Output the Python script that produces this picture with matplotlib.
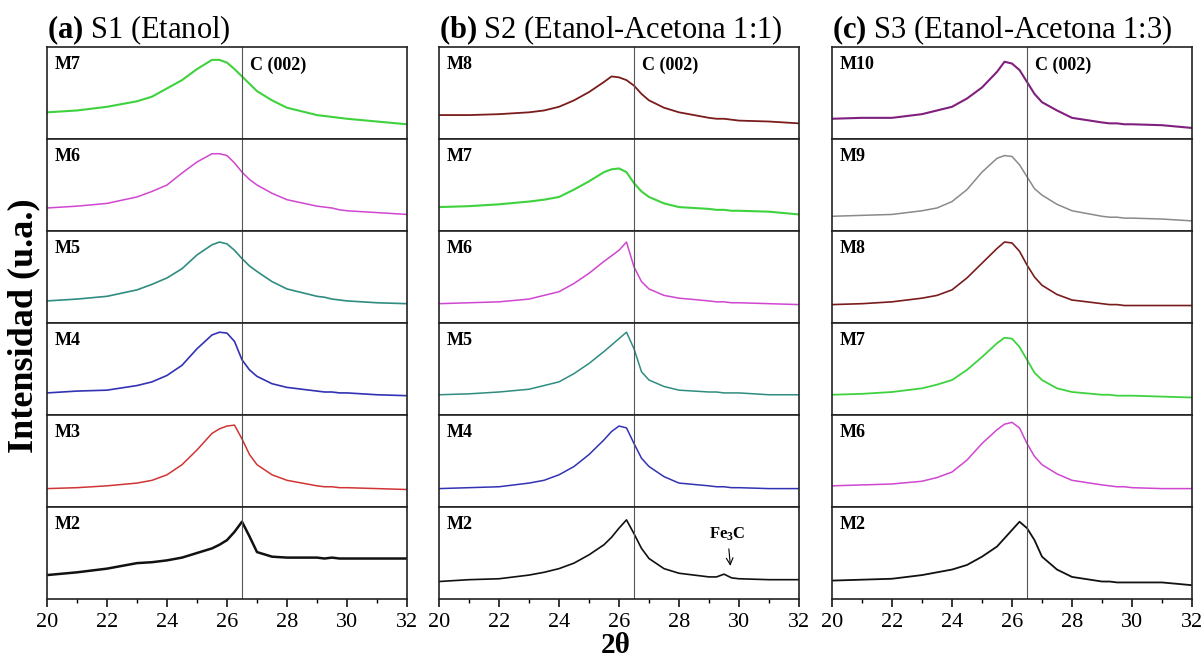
import numpy as np
import matplotlib
matplotlib.use("Agg")
import matplotlib.pyplot as plt
from matplotlib.ticker import MultipleLocator

plt.rcParams['font.family'] = ['Liberation Serif', 'DejaVu Serif']
plt.rcParams['mathtext.fontset'] = 'custom'
plt.rcParams['mathtext.rm'] = 'Liberation Serif'
plt.rcParams['mathtext.bf'] = 'Liberation Serif:bold'

two_theta = [20, 21, 22, 23, 23.5, 24, 24.5, 25, 25.5, 25.75, 26, 26.25,
             26.5, 26.75, 27, 27.5, 28, 29, 29.25, 29.5, 29.75, 30, 31, 32]

# normalised intensity, each panel 0..1
s1_m7 = [0.29, 0.31, 0.35, 0.41, 0.46, 0.55, 0.64, 0.76, 0.86, 0.86, 0.83, 0.76,
         0.68, 0.60, 0.52, 0.42, 0.34, 0.26, 0.25, 0.24, 0.23, 0.22, 0.19, 0.16]
s1_m6 = [0.25, 0.27, 0.30, 0.37, 0.43, 0.50, 0.63, 0.75, 0.84, 0.84, 0.82, 0.74,
         0.64, 0.56, 0.50, 0.41, 0.34, 0.27, 0.26, 0.25, 0.23, 0.22, 0.20, 0.18]
s1_m5 = [0.24, 0.26, 0.29, 0.36, 0.42, 0.49, 0.59, 0.74, 0.85, 0.88, 0.86, 0.79,
         0.70, 0.62, 0.56, 0.45, 0.37, 0.29, 0.28, 0.26, 0.25, 0.24, 0.22, 0.21]
s1_m4 = [0.24, 0.26, 0.27, 0.32, 0.36, 0.43, 0.54, 0.72, 0.87, 0.90, 0.89, 0.80,
         0.60, 0.49, 0.42, 0.34, 0.30, 0.26, 0.25, 0.25, 0.24, 0.24, 0.22, 0.21]
s1_m3 = [0.20, 0.21, 0.23, 0.26, 0.29, 0.35, 0.46, 0.62, 0.80, 0.85, 0.88, 0.89,
         0.74, 0.57, 0.46, 0.35, 0.29, 0.23, 0.22, 0.22, 0.21, 0.21, 0.20, 0.19]
s1_m2 = [0.26, 0.29, 0.33, 0.39, 0.40, 0.42, 0.45, 0.50, 0.55, 0.59, 0.64, 0.73,
         0.84, 0.68, 0.51, 0.46, 0.45, 0.45, 0.44, 0.45, 0.44, 0.44, 0.44, 0.44]

s2_m8 = [0.26, 0.26, 0.27, 0.29, 0.31, 0.35, 0.42, 0.51, 0.62, 0.68, 0.67, 0.64,
         0.58, 0.49, 0.42, 0.34, 0.29, 0.23, 0.22, 0.22, 0.21, 0.20, 0.19, 0.17]
s2_m7 = [0.26, 0.27, 0.29, 0.32, 0.34, 0.37, 0.45, 0.54, 0.64, 0.67, 0.68, 0.64,
         0.52, 0.43, 0.37, 0.30, 0.26, 0.24, 0.23, 0.23, 0.22, 0.22, 0.21, 0.18]
s2_m6 = [0.21, 0.22, 0.23, 0.26, 0.30, 0.34, 0.43, 0.54, 0.67, 0.73, 0.79, 0.88,
         0.61, 0.45, 0.37, 0.30, 0.27, 0.24, 0.23, 0.23, 0.22, 0.22, 0.21, 0.20]
s2_m5 = [0.22, 0.23, 0.25, 0.28, 0.32, 0.36, 0.45, 0.56, 0.69, 0.76, 0.83, 0.90,
         0.72, 0.47, 0.38, 0.31, 0.27, 0.25, 0.25, 0.24, 0.24, 0.24, 0.22, 0.22]
s2_m4 = [0.20, 0.21, 0.22, 0.26, 0.29, 0.35, 0.44, 0.57, 0.73, 0.82, 0.88, 0.86,
         0.69, 0.53, 0.44, 0.33, 0.26, 0.23, 0.22, 0.22, 0.21, 0.21, 0.20, 0.20]
s2_m2 = [0.19, 0.21, 0.22, 0.26, 0.29, 0.33, 0.39, 0.48, 0.59, 0.67, 0.77, 0.86,
         0.71, 0.55, 0.44, 0.33, 0.28, 0.24, 0.24, 0.27, 0.23, 0.22, 0.21, 0.21]

s3_m10 = [0.22, 0.23, 0.23, 0.27, 0.31, 0.35, 0.44, 0.56, 0.73, 0.84, 0.82, 0.75,
          0.62, 0.49, 0.40, 0.31, 0.23, 0.18, 0.17, 0.17, 0.16, 0.16, 0.15, 0.12]
s3_m9 = [0.16, 0.17, 0.18, 0.22, 0.25, 0.32, 0.45, 0.64, 0.79, 0.82, 0.81, 0.72,
         0.59, 0.46, 0.39, 0.29, 0.22, 0.16, 0.15, 0.15, 0.14, 0.14, 0.13, 0.11]
s3_m8 = [0.20, 0.21, 0.23, 0.27, 0.30, 0.36, 0.49, 0.65, 0.81, 0.88, 0.87, 0.78,
         0.63, 0.50, 0.41, 0.31, 0.25, 0.21, 0.20, 0.20, 0.19, 0.19, 0.19, 0.19]
s3_m7 = [0.22, 0.23, 0.25, 0.29, 0.33, 0.38, 0.49, 0.63, 0.78, 0.84, 0.83, 0.74,
         0.60, 0.46, 0.38, 0.29, 0.25, 0.22, 0.22, 0.21, 0.21, 0.21, 0.20, 0.19]
s3_m6 = [0.23, 0.24, 0.25, 0.28, 0.32, 0.38, 0.51, 0.69, 0.84, 0.90, 0.92, 0.86,
         0.69, 0.55, 0.46, 0.36, 0.29, 0.24, 0.23, 0.22, 0.22, 0.21, 0.20, 0.20]
s3_m2 = [0.20, 0.21, 0.22, 0.26, 0.29, 0.32, 0.37, 0.46, 0.57, 0.66, 0.75, 0.84,
         0.77, 0.64, 0.46, 0.32, 0.24, 0.19, 0.19, 0.18, 0.18, 0.18, 0.18, 0.15]

titles = [r"$\mathbf{(a)}$ S1 (Etanol)",
          r"$\mathbf{(b)}$ S2 (Etanol-Acetona 1:1)",
          r"$\mathbf{(c)}$ S3 (Etanol-Acetona 1:3)"]

GREEN, MAGENTA, TEAL, BLUE, RED = '#3fd23f', '#d046d0', '#2f8c80', '#3232b4', '#d03434'
MAROON, PURPLE, GRAY, BLACK = '#7a1c1c', '#80207e', '#8a8a8a', '#111111'

# (label, values, colour, line width) -- noisier scans drawn a bit heavier
columns = [
    [("M7", s1_m7, GREEN, 1.5), ("M6", s1_m6, MAGENTA, 1.1), ("M5", s1_m5, TEAL, 1.2),
     ("M4", s1_m4, BLUE, 1.2), ("M3", s1_m3, RED, 1.1), ("M2", s1_m2, BLACK, 1.8)],
    [("M8", s2_m8, MAROON, 1.3), ("M7", s2_m7, GREEN, 1.5), ("M6", s2_m6, MAGENTA, 1.1),
     ("M5", s2_m5, TEAL, 1.1), ("M4", s2_m4, BLUE, 1.1), ("M2", s2_m2, BLACK, 1.2)],
    [("M10", s3_m10, PURPLE, 1.5), ("M9", s3_m9, GRAY, 1.1), ("M8", s3_m8, MAROON, 1.2),
     ("M7", s3_m7, GREEN, 1.3), ("M6", s3_m6, MAGENTA, 1.1), ("M2", s3_m2, BLACK, 1.3)],
]

fig = plt.figure(figsize=(12.04, 6.6), dpi=100)

lefts = [47 / 1204, 439 / 1204, 832 / 1204]
width = 360 / 1204
bottom0 = 61 / 660
row_h = (552 / 660) / 6

for c, col in enumerate(columns):
    for r, (name, vals, color, lw) in enumerate(col):
        ax = fig.add_axes([lefts[c], bottom0 + (5 - r) * row_h, width, row_h])
        ax.plot(two_theta, vals, color=color, lw=lw)
        ax.axvline(26.5, color='#555555', lw=0.8)
        ax.set_xlim(20, 32)
        ax.set_ylim(0, 1)
        ax.set_yticks([])
        for s in ax.spines.values():
            s.set_linewidth(1.2)
            s.set_color('#222222')
        ax.text(0.022, 0.90, name, transform=ax.transAxes, ha='left', va='top',
                fontsize=13, fontweight='bold')
        if r == 0:
            ax.text(26.78, 0.90, "C (002)", transform=ax.get_xaxis_transform(),
                    ha='left', va='top', fontsize=13, fontweight='bold')
            ax.set_title(titles[c], loc='left', fontsize=22, pad=3, x=0.0)
        ax.xaxis.set_major_locator(MultipleLocator(2))
        ax.xaxis.set_minor_locator(MultipleLocator(1))
        if r == 5:
            ax.tick_params(axis='x', which='major', direction='out', length=6,
                           width=1.1, labelsize=16, pad=4)
            ax.tick_params(axis='x', which='minor', direction='out', length=3, width=1.0)
        else:
            ax.tick_params(axis='x', which='both', bottom=False, labelbottom=False)
        if c == 1 and r == 5:
            ax.annotate(r"$\mathbf{Fe_3C}$", xy=(29.72, 0.33), xytext=(29.62, 0.70),
                        ha='center', va='center', fontsize=12,
                        arrowprops=dict(arrowstyle='->', lw=0.8, color='black'))

fig.text(0.020, 0.506, "Intensidad (u.a.)", rotation=90,
         ha='center', va='center', fontsize=26, fontweight='bold')
fig.text(0.511, 0.022, "2θ", ha='center', va='center', fontsize=21, fontweight='bold')

fig.savefig("out.png", dpi=100)
